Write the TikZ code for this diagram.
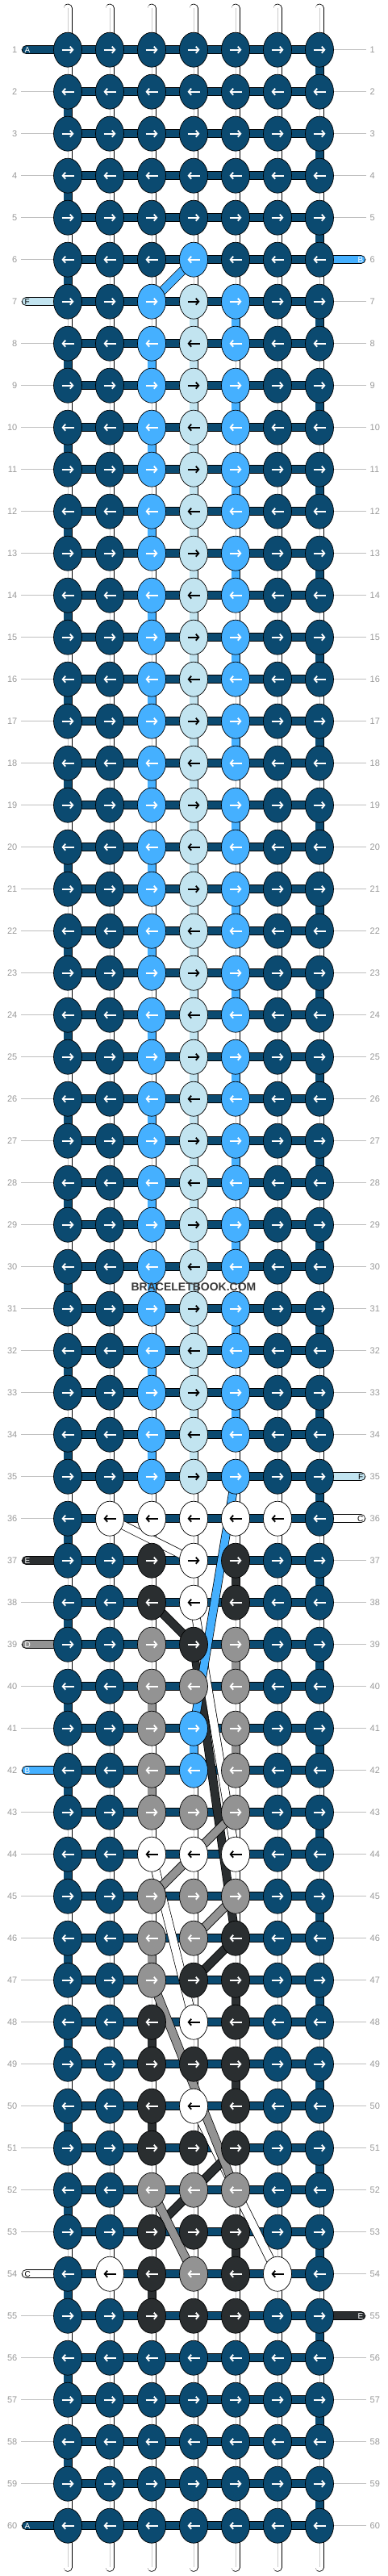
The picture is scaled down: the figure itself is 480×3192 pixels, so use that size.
\documentclass[tikz,border=0pt]{standalone}
\usepackage{fontspec}
\setmainfont{Liberation Sans}
\usetikzlibrary{shapes.geometric,arrows.meta}

\definecolor{colA}{HTML}{0B4A70}
\definecolor{colB}{HTML}{45B0FF}
\definecolor{colC}{HTML}{FFFFFF}
\definecolor{colD}{HTML}{939393}
\definecolor{colE}{HTML}{2A2E30}
\definecolor{colF}{HTML}{C2E4F0}
\colorlet{arrA}{white}
\colorlet{arrB}{white}
\colorlet{arrC}{black}
\colorlet{arrD}{white}
\colorlet{arrE}{white}
\colorlet{arrF}{black}

\tikzset{
	knot/.style={ellipse, draw=black, line width=0.7pt, minimum width=35pt, minimum height=43pt, inner sep=0pt},
	thread/.style={draw=black, line width=0.75pt, double=#1, double distance=9.5pt},
	string/.style={thread=white, line cap=round},
	core/.style={draw=black!20, line width=0.8pt},
	tab/.style={thread=#1, line cap=round},
	rule/.style={draw=black!25, line width=0.8pt},
	rownum/.style={text=black!40, inner sep=0pt, font=\fontsize{11}{11}\selectfont},
	tag/.style={inner sep=0pt, font=\fontsize{10}{10}\selectfont},
	arr/.style={line width=1.8pt, -{Straight Barb[length=3.5pt,width=8pt]}},
	wmark/.style={text=black!78, inner sep=0pt, font=\bfseries\fontsize{14}{14}\selectfont},
}

% one row of knots, #1 = row, #2 = thread of each knot
\newcommand{\knotrow}[2]{%
	\foreach \k [count=\c] in {#2} {%
		\node[knot, fill=col\k] (k-#1-\c) at (p-#1-\c) {};
		\ifodd#1\relax
			\draw[arr, draw=arr\k] ([xshift=-7.5pt]k-#1-\c.center) -- ([xshift=7.5pt]k-#1-\c.center);
		\else
			\draw[arr, draw=arr\k] ([xshift=7.5pt]k-#1-\c.center) -- ([xshift=-7.5pt]k-#1-\c.center);
		\fi
	}}

\begin{document}
\begin{tikzpicture}[x=1pt, y=-1pt]
	\useasboundingbox (0,0) rectangle (480,3192);

	% grid
	\foreach \r in {1,...,60}
		\foreach \c in {1,...,7}
			\coordinate (p-\r-\c) at ({84+52*(\c-1)}, {61.7+52*(\r-1)});

	% row numbers
	\foreach \r in {1,...,60} {
		\coordinate (ll-\r) at (26, {61.7+52*(\r-1)});
		\coordinate (lr-\r) at (454, {61.7+52*(\r-1)});
		\draw[rule] (ll-\r) -- (p-\r-1);
		\draw[rule] (p-\r-7) -- (lr-\r);
		\node[rownum, anchor=east] (nl-\r) at (21.5, {61.7+52*(\r-1)}) {\r};
		\node[rownum, anchor=west] (nr-\r) at (458.5, {61.7+52*(\r-1)}) {\r};
	}

	% strings
	\foreach \c in {1,...,7} {
		\coordinate (top-\c) at ({84+52*(\c-1)}, 10.2);
		\coordinate (bot-\c) at ({84+52*(\c-1)}, 3181.2);
		\draw[string] (top-\c) -- (bot-\c);
		\draw[core] (top-\c) -- (bot-\c);
	}

	% background thread
	\foreach \r in {1,...,60}
		\draw[thread=colA] (p-\r-1) -- (p-\r-7);
	\foreach \r in {1,3,...,59} {
		\pgfmathtruncatemacro\s{\r+1}
		\draw[thread=colA] (p-\r-7) -- (p-\s-7);
	}
	\foreach \r in {2,4,...,58} {
		\pgfmathtruncatemacro\s{\r+1}
		\draw[thread=colA] (p-\r-1) -- (p-\s-1);
	}

	% straight runs
	\foreach \r in {7,...,34} {
		\pgfmathtruncatemacro\s{\r+1}
		\draw[thread=colF] (p-\r-4) -- (p-\s-4);
	}
	\foreach \r in {8,10,...,34} {
		\pgfmathtruncatemacro\s{\r+1}
		\draw[thread=colB] (p-\r-3) -- (p-\s-3);
	}
	\foreach \r in {7,9,...,33} {
		\pgfmathtruncatemacro\s{\r+1}
		\draw[thread=colB] (p-\r-5) -- (p-\s-5);
	}
	\foreach \r/\c/\k in {41/4/B, 37/5/E, 47/5/E, 48/3/E, 49/5/E, 50/3/E, 53/5/E, 54/3/E,
			39/5/D, 40/3/D, 41/5/D, 42/3/D, 46/3/D} {
		\pgfmathtruncatemacro\s{\r+1}
		\draw[thread=col\k] (p-\r-\c) -- (p-\s-\c);
	}

	% thread ends
	\foreach \r/\k in {1/A, 7/F, 37/E, 39/D, 42/B, 54/C, 60/A} {
		\coordinate (tl-\r) at (32.5, {61.7+52*(\r-1)});
		\draw[tab=col\k] (tl-\r) -- (p-\r-1);
		\node[tag, text=arr\k, anchor=west] (el-\r) at (30.5, {61.7+52*(\r-1)}) {\k};
	}
	\foreach \r/\k in {6/B, 35/F, 36/C, 55/E} {
		\coordinate (tr-\r) at (447.5, {61.7+52*(\r-1)});
		\draw[tab=col\k] (p-\r-7) -- (tr-\r);
		\node[tag, text=arr\k, anchor=east] (er-\r) at (450.5, {61.7+52*(\r-1)}) {\k};
	}

	% crossing threads
	\draw[thread=colE] (p-39-4) -- (p-46-5);
	\foreach \a/\b/\k in {36-2/37-4/C, 38-4/44-5/C, 44-3/48-4/C, 50-4/54-6/C,
			38-3/39-4/E, 46-5/47-4/E, 51-5/53-3/E,
			43-5/45-3/D, 45-5/46-4/D, 47-3/52-5/D, 52-3/54-4/D,
			6-4/7-3/B, 35-5/41-4/B}
		\draw[thread=col\k] (p-\a) -- (p-\b);

	% knots
	\foreach \r in {1,...,5} {\knotrow{\r}{A,A,A,A,A,A,A}}
	\knotrow{6}{A,A,A,B,A,A,A}
	\foreach \r in {7,...,35} {\knotrow{\r}{A,A,B,F,B,A,A}}
	\knotrow{36}{A,C,C,C,C,C,A}
	\knotrow{37}{A,A,E,C,E,A,A}
	\knotrow{38}{A,A,E,C,E,A,A}
	\knotrow{39}{A,A,D,E,D,A,A}
	\knotrow{40}{A,A,D,D,D,A,A}
	\knotrow{41}{A,A,D,B,D,A,A}
	\knotrow{42}{A,A,D,B,D,A,A}
	\knotrow{43}{A,A,D,D,D,A,A}
	\knotrow{44}{A,A,C,C,C,A,A}
	\knotrow{45}{A,A,D,D,D,A,A}
	\knotrow{46}{A,A,D,D,E,A,A}
	\knotrow{47}{A,A,D,E,E,A,A}
	\knotrow{48}{A,A,E,C,E,A,A}
	\knotrow{49}{A,A,E,E,E,A,A}
	\knotrow{50}{A,A,E,C,E,A,A}
	\knotrow{51}{A,A,E,E,E,A,A}
	\knotrow{52}{A,A,D,D,D,A,A}
	\knotrow{53}{A,A,E,E,E,A,A}
	\knotrow{54}{A,C,E,D,E,C,A}
	\knotrow{55}{A,A,E,E,E,A,A}
	\foreach \r in {56,...,60} {\knotrow{\r}{A,A,A,A,A,A,A}}

	\node[wmark] (watermark) at (240,1595) {BRACELETBOOK.COM};
\end{tikzpicture}
\end{document}
